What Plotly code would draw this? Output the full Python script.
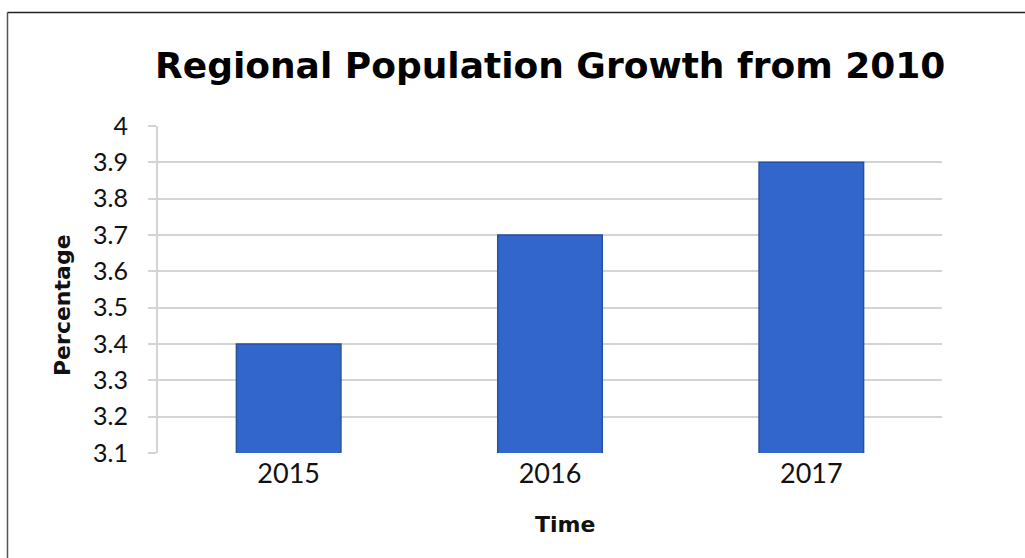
import plotly.graph_objects as go

years = ["2015", "2016", "2017"]
growth_pct = [3.4, 3.7, 3.9]
y_ticks = [3.1, 3.2, 3.3, 3.4, 3.5, 3.6, 3.7, 3.8, 3.9, 4.0]
y_tick_text = ["3.1", "3.2", "3.3", "3.4", "3.5", "3.6", "3.7", "3.8", "3.9", "4"]

W, H = 1025, 558
L, R, T, B = 158, 83, 126, 105
pw, ph = W - L - R, H - T - B


def px_x(x):
    return (x - L) / pw


def px_y(y):
    return (H - B - y) / ph


BOLD = "DejaVu Sans, sans-serif"

fig = go.Figure(
    go.Bar(
        x=years,
        y=growth_pct,
        base=0,
        marker=dict(color="#3366CC", line=dict(color="#27509E", width=1.5)),
    )
)

fig.update_layout(
    width=W,
    height=H,
    margin=dict(l=L, r=R, t=T, b=B),
    paper_bgcolor="white",
    plot_bgcolor="white",
    bargap=0.6,
    showlegend=False,
    font=dict(family="Lato, sans-serif", color="#111111"),
    xaxis=dict(
        tickfont=dict(size=27),
        ticklabelstandoff=2,
        showgrid=False,
        showline=False,
        ticks="",
    ),
    yaxis=dict(
        range=[3.1, 4.0],
        tickvals=y_ticks,
        ticktext=y_tick_text,
        tickfont=dict(size=25),
        ticklabelstandoff=15,
        showgrid=True,
        gridcolor="#D4D4D4",
        gridwidth=2,
        showline=True,
        linecolor="#D4D4D4",
        linewidth=2,
        ticks="outside",
        ticklen=8,
        tickcolor="#D4D4D4",
        tickwidth=2,
        zeroline=False,
    ),
    annotations=[
        dict(text="<b>Regional Population Growth from 2010</b>",
             xref="paper", yref="paper", x=px_x(550), y=px_y(65),
             xanchor="center", yanchor="middle", showarrow=False,
             font=dict(family=BOLD, size=36, color="#000000")),
        dict(text="<b>Percentage</b>",
             xref="paper", yref="paper", x=px_x(62), y=px_y(305),
             xanchor="center", yanchor="middle", showarrow=False, textangle=-90,
             font=dict(family=BOLD, size=22, color="#111111")),
        dict(text="<b>Time</b>",
             xref="paper", yref="paper", x=px_x(565), y=px_y(524),
             xanchor="center", yanchor="middle", showarrow=False,
             font=dict(family=BOLD, size=22, color="#111111")),
    ],
    shapes=[
        dict(type="line", xref="paper", yref="paper",
             x0=px_x(7.5), x1=px_x(7.5), y0=px_y(12.5), y1=px_y(H + 5),
             line=dict(color="#555555", width=1.5)),
        dict(type="line", xref="paper", yref="paper",
             x0=px_x(7.5), x1=px_x(W + 5), y0=px_y(12.5), y1=px_y(12.5),
             line=dict(color="#222222", width=1.5)),
    ],
)

fig.write_html("out.html")
